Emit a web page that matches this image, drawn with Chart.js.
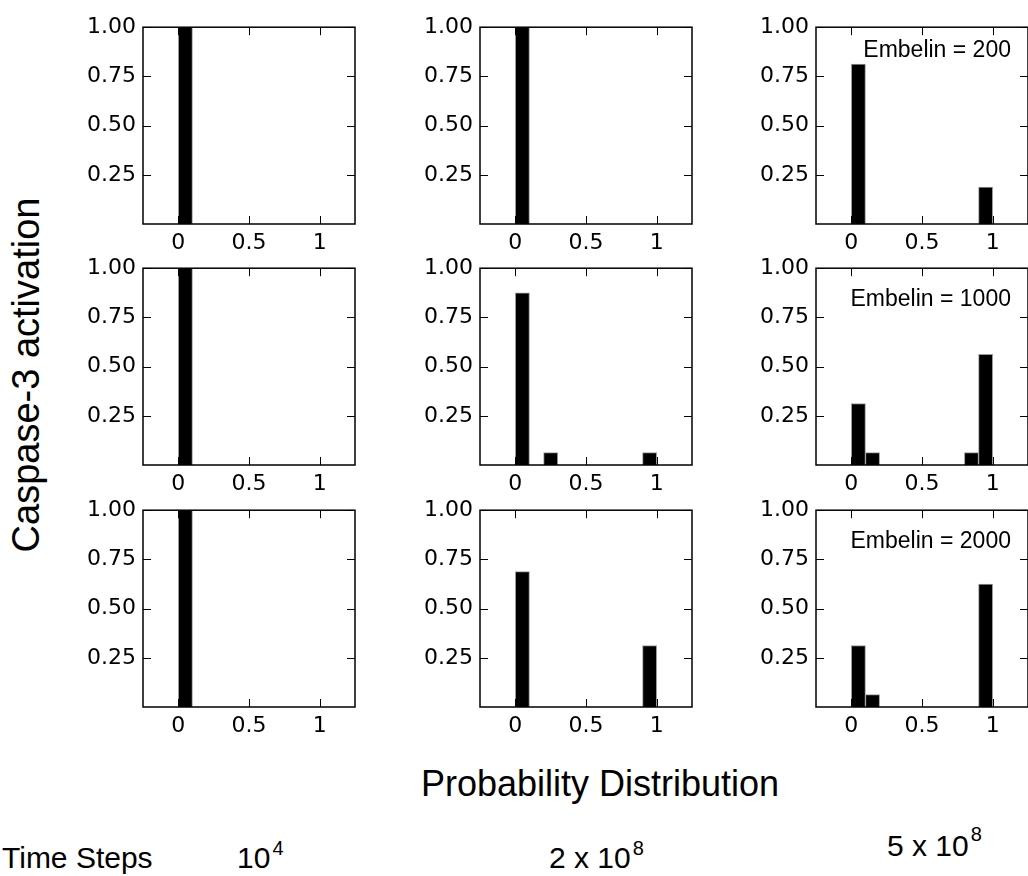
<!DOCTYPE html>
<html>
<head>
<meta charset="utf-8">
<script src="https://cdn.jsdelivr.net/npm/chart.js@4.4.0/dist/chart.umd.min.js"></script>
<style>
  html, body { margin: 0; padding: 0; background: #fff; }
  body { width: 1028px; height: 876px; position: relative; overflow: hidden; }
  canvas { position: absolute; }
  .txt { position: absolute; font-family: "Liberation Sans", Arial, sans-serif; color: #000; line-height: 1; white-space: nowrap; }
  .sup { position: relative; font-size: 20px; margin-left: 2px; }
</style>
</head>
<body>
<script>
// histogram bins (centres) and axis ticks
const binCenters = [0.05, 0.15, 0.25, 0.35, 0.45, 0.55, 0.65, 0.75, 0.85, 0.95];
const xTicks = [0, 0.5, 1];
const yTicks = [0.25, 0.5, 0.75, 1.0];

// rows: Embelin = 200 / 1000 / 2000, columns: 10^4 / 2x10^8 / 5x10^8 time steps
const embelinLabels = ['Embelin = 200', 'Embelin = 1000', 'Embelin = 2000'];

const r1c1 = [1, 0, 0, 0, 0, 0, 0, 0, 0, 0];
const r1c2 = [1, 0, 0, 0, 0, 0, 0, 0, 0, 0];
const r1c3 = [0.8125, 0, 0, 0, 0, 0, 0, 0, 0, 0.1875];

const r2c1 = [1, 0, 0, 0, 0, 0, 0, 0, 0, 0];
const r2c2 = [0.875, 0, 0.0625, 0, 0, 0, 0, 0, 0, 0.0625];
const r2c3 = [0.3125, 0.0625, 0, 0, 0, 0, 0, 0, 0.0625, 0.5625];

const r3c1 = [1, 0, 0, 0, 0, 0, 0, 0, 0, 0];
const r3c2 = [0.6875, 0, 0, 0, 0, 0, 0, 0, 0, 0.3125];
const r3c3 = [0.3125, 0.0625, 0, 0, 0, 0, 0, 0, 0, 0.625];

const panels = [
    [r1c1, r1c2, r1c3],
    [r2c1, r2c2, r2c3],
    [r3c1, r3c2, r3c3]
];

// layout of the plot areas (px)
const colLeft = [143, 480, 816];
const rowTop = [23, 264, 506];
const plotW = 212, plotH = 201;
const padL = 80, padT = 16, padR = 6, padB = 40;

// frame + inward tick marks, like the old matplotlib style
const frameTicks = {
    id: 'frameTicks',
    afterDatasetsDraw(chart) {
        const { ctx, chartArea: a, scales: { x, y } } = chart;
        const tl = 8;
        ctx.save();
        ctx.strokeStyle = '#000';
        ctx.lineWidth = 1;
        ctx.beginPath();
        xTicks.forEach(v => {
            const px = Math.round(x.getPixelForValue(v)) + 0.5;
            ctx.moveTo(px, a.bottom); ctx.lineTo(px, a.bottom - tl);
            ctx.moveTo(px, a.top); ctx.lineTo(px, a.top + tl);
        });
        yTicks.forEach(v => {
            const py = Math.round(y.getPixelForValue(v)) + 0.5;
            ctx.moveTo(a.left, py); ctx.lineTo(a.left + tl, py);
            ctx.moveTo(a.right, py); ctx.lineTo(a.right - tl, py);
        });
        ctx.stroke();
        ctx.lineWidth = 1.5;
        ctx.strokeRect(a.left, a.top, a.right - a.left, a.bottom - a.top);
        ctx.restore();
    }
};

const tickFont = { family: '"DejaVu Sans", sans-serif', size: 22 };

panels.forEach((row, r) => {
    row.forEach((values, c) => {
        const canvas = document.createElement('canvas');
        const w = padL + plotW + padR, h = padT + plotH + padB;
        canvas.width = w; canvas.height = h;
        canvas.style.width = w + 'px'; canvas.style.height = h + 'px';
        canvas.style.left = (colLeft[c] - padL) + 'px';
        canvas.style.top = (rowTop[r] - padT) + 'px';
        document.body.appendChild(canvas);

        new Chart(canvas.getContext('2d'), {
            type: 'bar',
            data: {
                datasets: [{
                    data: binCenters.map((x, i) => ({ x: x, y: values[i] })),
                    backgroundColor: '#000',
                    borderColor: '#9a9a9a',
                    borderWidth: 1,
                    borderSkipped: 'start',
                    categoryPercentage: 1,
                    barPercentage: 1
                }]
            },
            options: {
                responsive: false,
                animation: false,
                layout: { padding: { top: padT, right: padR, left: 0, bottom: 0 } },
                plugins: { legend: { display: false }, tooltip: { enabled: false } },
                scales: {
                    x: {
                        type: 'linear',
                        min: -0.25,
                        max: 1.25,
                        offset: false,
                        afterBuildTicks: s => { s.ticks = xTicks.map(v => ({ value: v })); },
                        afterFit: s => { s.height = padB; },
                        grid: { display: false, drawTicks: false, offset: false },
                        border: { display: false },
                        ticks: {
                            autoSkip: false,
                            maxRotation: 0,
                            padding: 6,
                            color: '#000',
                            font: tickFont,
                            callback: v => String(v)
                        }
                    },
                    y: {
                        min: 0,
                        max: 1,
                        afterBuildTicks: s => { s.ticks = yTicks.map(v => ({ value: v })); },
                        afterFit: s => { s.width = padL; },
                        grid: { display: false, drawTicks: false },
                        border: { display: false },
                        ticks: {
                            autoSkip: false,
                            padding: 7,
                            color: '#000',
                            font: tickFont,
                            callback: v => v.toFixed(2)
                        }
                    }
                }
            },
            plugins: [frameTicks]
        });
    });
});

// text placed by baseline (line-height 1 => baseline ~0.8465em below top for Liberation Sans)
function addText(html, left, baseline, size, extra) {
    const d = document.createElement('div');
    d.className = 'txt';
    d.innerHTML = html;
    d.style.fontSize = size + 'px';
    d.style.top = (baseline - 0.8465 * size) + 'px';
    if (left !== null) d.style.left = left + 'px';
    Object.assign(d.style, extra || {});
    document.body.appendChild(d);
    return d;
}

// Embelin labels, right aligned inside the third column
const embelinBase = [57, 306, 548];
embelinLabels.forEach((t, r) => {
    addText(t, null, embelinBase[r], 23, { right: '17px' });
});

// axis titles
addText('Probability Distribution', null, 796, 36, { left: '0px', width: '1200px', textAlign: 'center' });
const yTitle = document.createElement('div');
yTitle.className = 'txt';
yTitle.textContent = 'Caspase-3 activation';
Object.assign(yTitle.style, {
    fontSize: '38px', width: '420px', height: '38px', textAlign: 'center',
    left: (25.5 - 210) + 'px', top: (375 - 19) + 'px', transform: 'rotate(-90deg)'
});
document.body.appendChild(yTitle);

// time step labels
addText('Time Steps', 2, 868, 30);
addText('10<span class="sup" style="top:-13px">4</span>', 237, 868, 30);
addText('2 x 10<span class="sup" style="top:-13px">8</span>', 549, 868, 30);
addText('5 x 10<span class="sup" style="top:-15px">8</span>', 887, 856, 30);
</script>
</body>
</html>
